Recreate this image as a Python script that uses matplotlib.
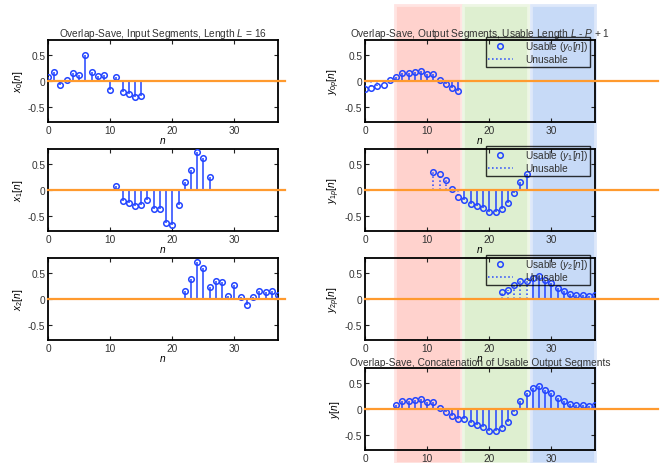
import matplotlib
matplotlib.use("Agg")
import matplotlib.pyplot as plt
from matplotlib.lines import Line2D
from matplotlib.patches import Rectangle
from matplotlib.transforms import blended_transform_factory
import numpy as np

FS = 7.3

plt.rcParams.update({
    "font.family": ["Liberation Sans", "DejaVu Sans"],
    "font.size": FS,
    "mathtext.fontset": "custom",
    "mathtext.rm": "Liberation Sans",
    "mathtext.it": "Liberation Sans:italic",
    "text.color": "#333333",
    "xtick.color": "#222222",
    "ytick.color": "#222222",
    "xtick.labelcolor": "#333333",
    "ytick.labelcolor": "#333333",
    "axes.linewidth": 1.3,
})

# input segments (L = 16, overlap P - 1 = 5)
n_x0 = list(range(0, 16))
x0 = [0.08, 0.17, -0.07, 0.01, 0.16, 0.12, 0.50, 0.18,
      0.10, 0.12, -0.18, 0.07, -0.21, -0.26, -0.31, -0.29]
n_x1 = list(range(11, 27))
x1 = [0.07, -0.21, -0.26, -0.31, -0.29, -0.19, -0.38, -0.38,
      -0.64, -0.69, -0.30, 0.16, 0.40, 0.74, 0.62, 0.25]
n_x2 = list(range(22, 38))
x2 = [0.15, 0.40, 0.73, 0.60, 0.24, 0.36, 0.33, 0.06,
      0.27, 0.03, -0.12, 0.04, 0.16, 0.14, 0.15, 0.08]

# output segments
y0 = [-0.15, -0.13, -0.10, -0.07, 0.01, 0.07, 0.15, 0.15,
      0.18, 0.19, 0.13, 0.13, 0.02, -0.05, -0.13, -0.19]
y1 = [0.36, 0.31, 0.20, 0.01, -0.13, -0.20, -0.28, -0.31,
      -0.36, -0.42, -0.42, -0.37, -0.25, -0.05, 0.15, 0.31]
y2 = [0.13, 0.18, 0.27, 0.35, 0.36, 0.41, 0.44, 0.38,
      0.31, 0.22, 0.15, 0.10, 0.07, 0.08, 0.06, 0.08]
n_unusable = 5  # first P - 1 output samples of each segment are discarded

# usable regions of the concatenated output
regions = [(4.8, 15.4), (15.8, 26.2), (26.7, 37.0)]
region_face = ["#FFD2CD", "#DEEFD0", "#C7DAF7"]
region_edge = ["#FFE4E2", "#EDF6E4", "#DEE8FA"]

BLUE = "#2244FF"
ORANGE = "#FF9A2E"

fig = plt.figure(figsize=(6.68, 4.64), dpi=100)

left_x, right_x, w = 48 / 668, 365 / 668, 230 / 668
tops = [41, 150, 259, 369]
h = 82 / 464


def make_ax(x, top):
    ax = fig.add_axes([x, 1 - (top + 82) / 464, w, h])
    ax.set_facecolor("none")
    ax.set_xlim(0, 37)
    ax.set_ylim(-0.8, 0.8)
    ax.set_xticks([0, 10, 20, 30])
    ax.set_yticks([-0.5, 0, 0.5])
    ax.set_yticklabels(["-0.5", "0", "0.5"])
    ax.tick_params(direction="in", top=True, right=True, length=3,
                   width=0.8, pad=2, labelsize=FS)
    ax.set_xlabel("$n$", labelpad=0)
    return ax


def stems(ax, n, v, ls="-"):
    n = np.asarray(n)
    v = np.asarray(v)
    ax.vlines(n, 0, v, colors=BLUE, linestyles=ls, lw=1.1, zorder=3)
    ax.plot(n, v, "o", mfc="none", mec=BLUE, ms=4, mew=1.1, zorder=4)


def baseline(ax, xmax):
    ax.plot([0, xmax], [0, 0], color=ORANGE, lw=1.6, zorder=5,
            clip_on=False)


# left column: input segments
left_data = [(n_x0, x0), (n_x1, x1), (n_x2, x2)]
for i, (n, v) in enumerate(left_data):
    ax = make_ax(left_x, tops[i])
    stems(ax, n, v)
    baseline(ax, 38.2)
    ax.set_ylabel(f"$x_{i}[n]$", labelpad=2)
    if i == 0:
        ax.set_title("Overlap-Save, Input Segments, Length $L$ = 16",
                     fontsize=FS, pad=3)

# right column: output segments
right_axes = []
out_data = [(n_x0, y0), (n_x1, y1), (n_x2, y2)]
for i, (n, v) in enumerate(out_data):
    ax = make_ax(right_x, tops[i])
    right_axes.append(ax)
    stems(ax, n[:n_unusable], v[:n_unusable], ls=":")
    stems(ax, n[n_unusable:], v[n_unusable:])
    baseline(ax, 47.1)
    ax.set_ylabel(f"$y_{{{i}p}}[n]$", labelpad=2)
    if i == 0:
        ax.set_title("Overlap-Save, Output Segments, Usable Length "
                     "$L$ - $P$ + 1", fontsize=FS, pad=3)
    handles = [
        Line2D([], [], ls="none", marker="o", mfc="none", mec=BLUE,
               ms=4, mew=1.1),
        Line2D([], [], ls=":", color=BLUE, lw=1.1),
    ]
    leg = ax.legend(handles, [f"Usable ($y_{i}[n]$)", "Unusable"],
                    loc="upper right", bbox_to_anchor=(0.98, 1.04),
                    fontsize=FS, fancybox=False, framealpha=None,
                    facecolor="none", edgecolor="black", borderpad=0.25,
                    labelspacing=0.1, handlelength=2.4, handletextpad=1.2,
                    borderaxespad=0)
    leg.get_frame().set_linewidth(1.0)
    leg.set_zorder(6)

# bottom right: concatenation of usable output
ax = make_ax(right_x, tops[3])
right_axes.append(ax)
n_y = n_x0[n_unusable:] + n_x1[n_unusable:] + n_x2[n_unusable:]
y = y0[n_unusable:] + y1[n_unusable:] + y2[n_unusable:]
stems(ax, n_y, y)
baseline(ax, 47.1)
ax.set_ylabel("$y[n]$", labelpad=2)
ax.set_title("Overlap-Save, Concatenation of Usable Output Segments",
             fontsize=FS, pad=2)

# shaded usable regions across the whole right column
trans = blended_transform_factory(right_axes[0].transData, fig.transFigure)
for (a, b), fc, ec in zip(regions, region_face, region_edge):
    rect = Rectangle((a, 0), b - a, 1 - 6 / 464, transform=trans,
                     facecolor=fc, edgecolor=ec, lw=2, zorder=-1)
    fig.add_artist(rect)

fig.savefig("out.png", dpi=100)
